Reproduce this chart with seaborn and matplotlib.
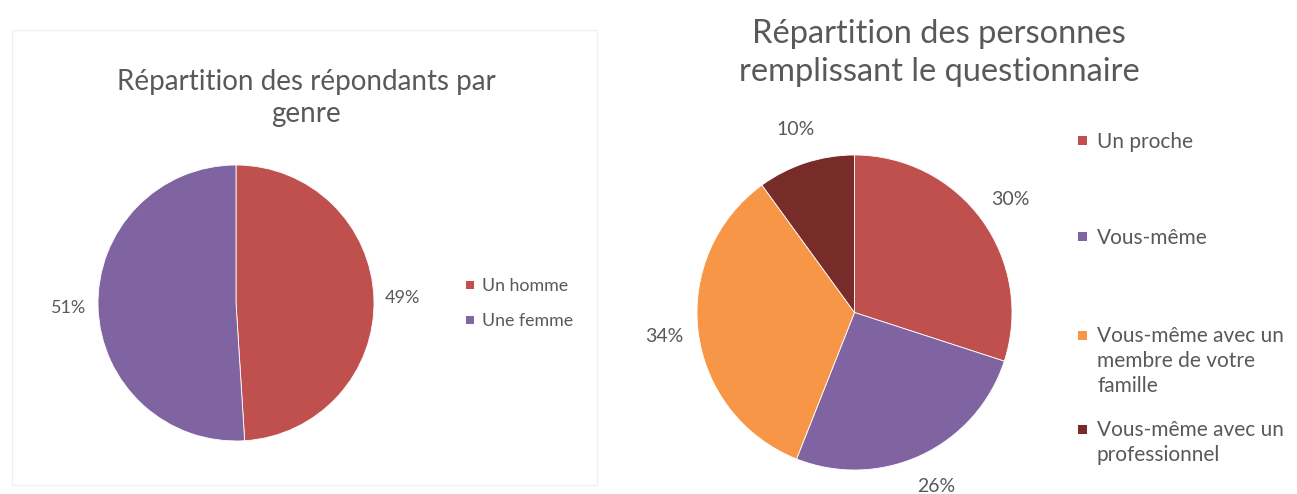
import textwrap
import matplotlib
matplotlib.use("Agg")
import matplotlib.pyplot as plt
from matplotlib.patches import Rectangle
import seaborn as sns

# ---- data ----
title_left = "Répartition des répondants par\ngenre"
genre_labels = ["Un homme", "Une femme"]
genre_values = [49, 51]

title_right = "Répartition des personnes\nremplissant le questionnaire"
personne_labels = [
    "Un proche",
    "Vous-même",
    "Vous-même avec un membre de votre famille",
    "Vous-même avec un professionnel",
]
personne_values = [30, 26, 34, 10]

# ---- style ----
sns.set_theme(style="white")
plt.rcParams["font.family"] = ["Lato", "DejaVu Sans"]
RED, PURPLE, ORANGE, DARKRED = "#C0504D", "#8064A2", "#F79646", "#772C2A"
TXT = "#595959"
W, H = 1297, 494

fig = plt.figure(figsize=(W / 100, H / 100), dpi=100)
fig.patch.set_facecolor("white")


def px_axes(x0, y0, x1, y1):
    return fig.add_axes([x0 / W, 1 - y1 / H, (x1 - x0) / W, (y1 - y0) / H])


# faint panel frame on the left chart
fig.patches.append(Rectangle((12 / W, 1 - 485 / H), 585 / W, 455 / H,
                             transform=fig.transFigure, facecolor="none",
                             edgecolor="#f0f0f0", lw=1))


def draw_pie(box, values, colors, fs, ld):
    ax = px_axes(*box)
    ax.pie(values, colors=colors, startangle=90, counterclock=False,
           autopct=lambda p: f"{p:.0f}%", pctdistance=ld,
           wedgeprops=dict(edgecolor="white", linewidth=0.6),
           textprops=dict(color=TXT, fontsize=fs))
    ax.set_aspect("auto")
    ax.set_xlim(-1, 1)
    ax.set_ylim(-1, 1)
    ax.axis("off")
    return ax


def draw_legend(labels, colors, x, ys, fs, sq, gap, wrap=None, ls=1.3):
    fpx = fs * 100 / 72
    for lab, col, y in zip(labels, colors, ys):
        txt = textwrap.fill(lab, wrap) if wrap else lab
        fig.text((x + sq + gap) / W, 1 - (y - 0.42 * fpx) / H, txt, fontsize=fs,
                 color=TXT, ha="left", va="top", linespacing=ls)
        fig.patches.append(Rectangle((x / W, 1 - (y + sq / 2) / H), sq / W, sq / H,
                                     transform=fig.transFigure, facecolor=col,
                                     edgecolor="none"))


# left chart
fig.text(306 / W, 1 - 98 / H, title_left, ha="center", va="center",
         fontsize=20, color=TXT, linespacing=1.25)
draw_pie((98, 165, 374, 441), genre_values, [RED, PURPLE], 13, 1.21)
draw_legend(genre_labels, [RED, PURPLE], 466, [285, 320], 12.8, 8, 8)

# right chart
fig.text(939 / W, 1 - 53 / H, title_right, ha="center", va="center",
         fontsize=23.5, color=TXT, linespacing=1.37)
draw_pie((697, 155, 1012, 470), personne_values, [RED, PURPLE, ORANGE, DARKRED], 14, 1.22)
draw_legend(personne_labels, [RED, PURPLE, ORANGE, DARKRED], 1078,
            [141, 237, 335, 429], 15, 9, 10, wrap=18, ls=1.32)

fig.savefig("out.png", dpi=100)
